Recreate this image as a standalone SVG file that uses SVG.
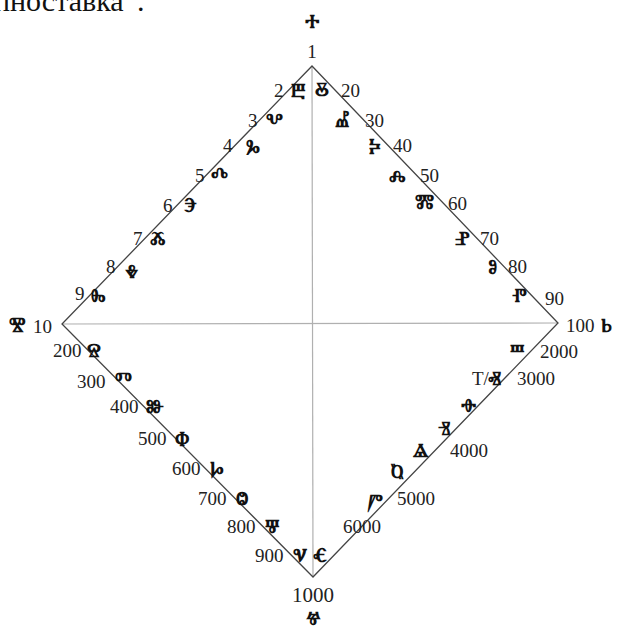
<svg xmlns="http://www.w3.org/2000/svg" width="617" height="630" viewBox="0 0 617 630">
<style>
.g{font-size:20px;font-weight:bold;fill:#111}
.axis{stroke:#b0b0b0;stroke-width:1.2;fill:none}
.edge{stroke:#444;stroke-width:1.3;fill:none}
</style>
<rect width="617" height="630" fill="#fff"/>
<text x="-6" y="11" font-family="Liberation Serif, serif" font-size="30" fill="#111">пноставка”.</text>
<g id="connectors">
<line class="axis" x1="312" y1="66" x2="313" y2="577"/>
<line class="axis" x1="62" y1="324" x2="558" y2="323"/>
<polygon class="edge" points="312,66 558,323 313,577 62,324"/>
</g>
<g font-family="Liberation Serif, serif" font-size="19" fill="#222">
<g id="top"><text class="g" x="312" y="28" text-anchor="middle">Ⰰ</text><text x="312" y="58" text-anchor="middle">1</text></g>
<g id="left-upper">
<text x="274" y="97">2</text><text class="g" x="291" y="97">Ⰱ</text>
<text x="248" y="127">3</text><text class="g" x="266" y="127">Ⰲ</text>
<text x="223" y="152">4</text><text class="g" x="246" y="153">Ⰳ</text>
<text x="195" y="182">5</text><text class="g" x="211" y="182">Ⰴ</text>
<text x="163" y="212">6</text><text class="g" x="184" y="212">Ⰵ</text>
<text x="133" y="245">7</text><text class="g" x="150" y="245">Ⰶ</text>
<text x="106" y="273">8</text><text class="g" x="125" y="278">Ⰷ</text>
<text x="75" y="300">9</text><text class="g" x="91" y="302">Ⰸ</text>
</g>
<g id="left"><text class="g" x="9" y="331">Ⰺ</text><text x="33" y="333">10</text></g>
<g id="right-upper">
<text class="g" x="315" y="96">Ⰻ</text><text x="341" y="97">20</text>
<text class="g" x="335" y="127">Ⰼ</text><text x="365" y="127">30</text>
<text class="g" x="369" y="152">Ⰽ</text><text x="393" y="152">40</text>
<text class="g" x="389" y="182">Ⰾ</text><text x="420" y="182">50</text>
<text class="g" x="415" y="208">Ⰿ</text><text x="448" y="210">60</text>
<text class="g" x="455" y="245">Ⱀ</text><text x="480" y="245">70</text>
<text class="g" x="488" y="273">Ⱁ</text><text x="508" y="273">80</text>
<text class="g" x="512" y="302">Ⱂ</text><text x="545" y="305">90</text>
</g>
<g id="right"><text x="566" y="332">100</text><text class="g" x="601" y="332">Ⱃ</text></g>
<g id="left-lower">
<text x="53" y="357">200</text><text class="g" x="87" y="357">Ⱄ</text>
<text x="77" y="388">300</text><text class="g" x="115" y="386">Ⱅ</text>
<text x="110" y="413">400</text><text class="g" x="146" y="413">Ⱆ</text>
<text x="138" y="445">500</text><text class="g" x="175" y="445">Ⱇ</text>
<text x="172" y="475">600</text><text class="g" x="210" y="475">Ⱈ</text>
<text x="198" y="505">700</text><text class="g" x="236" y="505">Ⱉ</text>
<text x="227" y="533">800</text><text class="g" x="265" y="533">Ⱋ</text>
<text x="255" y="562">900</text><text class="g" x="293" y="562">Ⱌ</text>
</g>
<g id="bottom"><text x="313" y="602" text-anchor="middle" font-size="21">1000</text><text class="g" x="313" y="625" text-anchor="middle">Ⱍ</text></g>
<g id="right-lower">
<text class="g" x="510" y="358">Ⱎ</text><text x="540" y="358">2000</text>
<text x="472" y="385">Т/</text><text class="g" x="488" y="385">Ⱏ</text><text x="517" y="385">3000</text>
<text class="g" x="461" y="412">Ⱚ</text>
<text class="g" x="438" y="435">Ⱐ</text>
<text class="g" x="413" y="457">Ⱑ</text><text x="450" y="457">4000</text>
<text class="g" x="391" y="478">Ⱒ</text>
<text class="g" x="368" y="508">Ⱓ</text><text x="397" y="505">5000</text>
<text x="343" y="533">6000</text>
<text class="g" x="313" y="562">Ⱔ</text>
</g>
</g>
</svg>
